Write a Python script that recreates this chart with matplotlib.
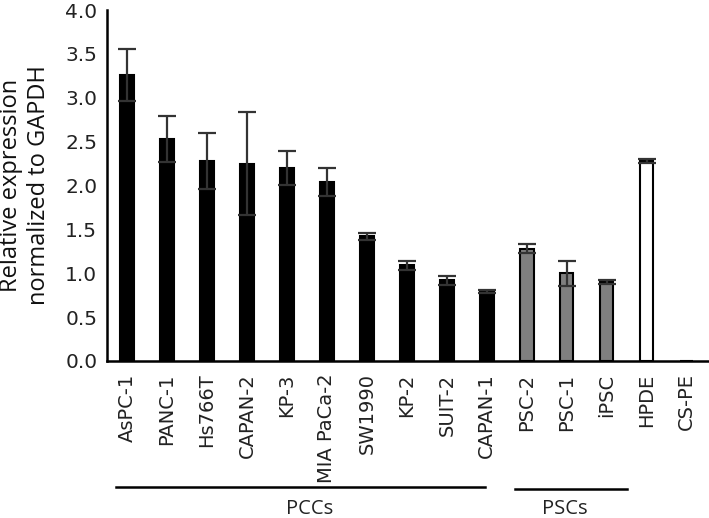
import numpy as np
import matplotlib
matplotlib.use("Agg")
import matplotlib.pyplot as plt
import matplotlib.transforms as mtransforms

# =========================================================
# DATA
# =========================================================

cell_lines = ["AsPC-1", "PANC-1", "Hs766T", "CAPAN-2", "KP-3", "MIA PaCa-2",
              "SW1990", "KP-2", "SUIT-2", "CAPAN-1",
              "PSC-2", "PSC-1", "iPSC", "HPDE", "CS-PE"]
expression = [3.26, 2.53, 2.28, 2.25, 2.20, 2.04,
              1.42, 1.09, 0.92, 0.79,
              1.28, 1.00, 0.90, 2.28, 0.0]
errors = [0.30, 0.26, 0.32, 0.59, 0.19, 0.16,
          0.04, 0.05, 0.05, 0.02,
          0.05, 0.14, 0.02, 0.02, 0.0]
bar_colors = ["black"] * 10 + ["#7f7f7f"] * 3 + ["white", "white"]

groups = ["PCCs", "PSCs"]
group_spans = [(-0.28, 8.96), (9.71, 12.5)]
group_centers = [4.56, 10.96]

# =========================================================
# PLOT
# =========================================================

fig = plt.figure(figsize=(7.09, 5.18), dpi=100)
ax = fig.add_axes([107 / 709, 1 - 361 / 518, (709 - 107) / 709, 351 / 518])

x = np.arange(len(cell_lines))
ax.bar(x, expression, width=0.34, color=bar_colors,
       edgecolor="black", linewidth=1.5)
ax.errorbar(x[:-1], expression[:-1], yerr=errors[:-1], fmt="none",
            ecolor="#333333", elinewidth=1.6, capsize=6.5, capthick=1.6)

ax.set_xlim(-0.5, 14.56)
ax.set_ylim(0, 4.0)
yt = np.arange(0, 4.01, 0.5)
ax.set_yticks(yt)
ax.set_yticklabels([f"{v:.1f}" for v in yt], fontsize=14.5, color="#222222")
ax.set_xticks(x)
ax.set_xticklabels(cell_lines, rotation=90, fontsize=14, color="#222222")
ax.tick_params(axis="both", length=0, pad=7)
ax.tick_params(axis="x", pad=9)

for side in ["top", "right"]:
    ax.spines[side].set_visible(False)
for side in ["left", "bottom"]:
    ax.spines[side].set_linewidth(1.8)

ax.set_ylabel("Relative expression\nnormalized to GAPDH",
              fontsize=17, family="Open Sans", linespacing=1.25,
              labelpad=10, color="#111111")

# group brackets under the tick labels
trans = mtransforms.blended_transform_factory(ax.transData, ax.transAxes)
line_y = [-0.359, -0.366]
for name, (x0, x1), ly, cx in zip(groups, group_spans, line_y, group_centers):
    ax.plot([x0, x1], [ly, ly], color="black", lw=1.8,
            transform=trans, clip_on=False)
    ax.text(cx, -0.392, name, transform=trans, ha="center", va="top",
            fontsize=14.5, family="Open Sans", color="#222222")

fig.savefig("out.png", dpi=100)
plt.close(fig)
